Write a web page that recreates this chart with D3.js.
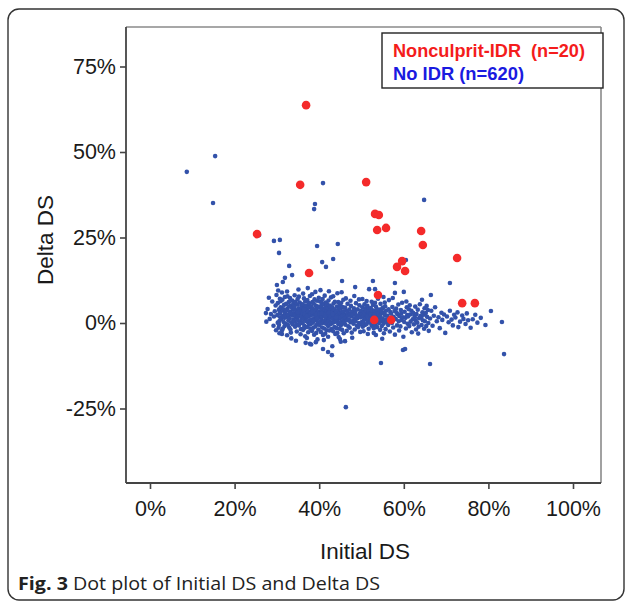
<!DOCTYPE html>
<html><head><meta charset="utf-8">
<script src="https://cdn.jsdelivr.net/npm/d3@7"></script>
<style>body{margin:0;background:#fff}svg{display:block}</style>
</head><body>
<svg id="c" width="627" height="605"></svg>
<script>
// ---- data (percent units: [Initial DS %, Delta DS %]) ----
const xTicks = [0, 20, 40, 60, 80, 100];
const yTicks = [-25, 0, 25, 50, 75];
const legendLabels = ["Nonculprit-IDR  (n=20)", "No IDR (n=620)"];
const nonculpritIDR = [
[36.9,63.7],[35.5,40.4],[51.1,41.2],[25.3,26.0],[53.2,31.9],[54.1,31.6],[53.7,27.2],[55.8,27.8],
[64.1,26.9],[64.5,22.8],[72.6,19.0],[37.6,14.6],[59.6,18.1],[58.4,16.4],[60.3,15.2],[53.9,8.2],
[53.0,0.9],[57.0,0.9],[73.8,5.8],[76.8,5.8]];
const noIDROutliers = [
[15.4,48.8],[8.7,44.2],[14.9,35.1],[25.8,25.7],[40.9,40.9],[39.0,34.8],[38.8,33.3],[29.3,24.0],
[30.7,24.3],[30.5,20.5],[39.5,22.5],[44.4,23.1],[43.3,18.7],[64.8,36.0],[60.5,18.4],[32.9,16.7],
[40.7,17.8],[41.6,16.4],[33.6,14.0],[31.9,13.2],[31.4,12.0],[30.0,11.1],[27.4,2.9],[31.2,-3.2],
[37.8,-6.1],[39.2,-5.6],[40.9,-7.6],[42.1,-8.5],[43.0,-9.4],[44.9,-4.7],[46.1,-5.3],[54.6,-11.7],
[59.8,-7.9],[60.3,-7.6],[66.2,-12.0],[46.3,-24.6],[45.4,12.3],[48.5,10.5],[52.7,12.3],[57.9,11.7],
[51.8,9.9],[53.2,9.9],[70.9,11.7],[80.6,3.5],[83.2,0.3],[83.7,-9.1],[66.4,8.2],[57.9,8.8],[60.0,9.1]];
const noIDRCluster = [
[27.8,4.1],[28.3,1.2],[28.9,6.3],[29.2,-0.8],[29.5,3.4],[29.9,8.2],[28.6,2.6],[29.7,5.1],[27.5,0.4],[29.3,1.9],[28.1,7.4],[29.8,-2.1],
[30.1,2.3],[30.2,5.8],[30.4,-1.4],[30.5,3.9],[30.6,0.6],[30.7,7.1],[30.8,1.7],[30.9,4.6],[30.3,9.5],[30.6,-3.0],[30.8,2.9],[30.2,0.1],[30.9,6.4],[30.5,-0.5],[30.7,3.2],
[31.0,1.1],[31.1,4.4],[31.2,-2.2],[31.3,6.8],[31.4,2.0],[31.5,3.6],[31.6,0.3],[31.7,5.3],[31.8,-0.9],[31.9,2.7],[31.2,8.9],[31.4,-1.6],[31.6,4.0],[31.8,1.5],[31.9,7.6],
[32.0,3.1],[32.1,-0.2],[32.2,5.6],[32.3,1.8],[32.4,-3.6],[32.5,4.2],[32.6,2.4],[32.7,0.7],[32.8,6.1],[32.9,-1.3],[32.2,3.7],[32.4,9.2],[32.6,-0.6],[32.8,2.1],[32.9,4.9],[32.5,7.8],
[33.0,1.4],[33.1,3.3],[33.2,-1.9],[33.3,5.0],[33.4,0.2],[33.5,2.6],[33.6,6.6],[33.7,-0.4],[33.8,3.9],[33.9,1.0],[33.1,7.3],[33.3,-2.8],[33.5,4.5],[33.7,2.2],[33.9,5.7],[33.4,-4.5],
[34.0,2.8],[34.1,0.5],[34.2,4.1],[34.3,-1.1],[34.4,6.2],[34.5,1.6],[34.6,3.5],[34.7,-2.5],[34.8,5.4],[34.9,0.9],[34.2,8.1],[34.4,2.3],[34.6,-0.3],[34.8,3.0],[34.9,7.0],[34.1,4.8],[34.5,-5.2],
[35.0,1.9],[35.1,4.3],[35.2,-0.7],[35.3,2.5],[35.4,6.0],[35.5,0.4],[35.6,3.8],[35.7,-1.8],[35.8,5.2],[35.9,1.3],[35.2,7.7],[35.4,3.2],[35.6,-3.3],[35.8,2.0],[35.9,4.7],[35.1,9.8],[35.5,-0.1],
[36.0,2.9],[36.1,0.0],[36.1,5.5],[36.2,-2.0],[36.3,3.6],[36.3,1.2],[36.4,7.2],[36.5,-0.8],[36.5,4.4],[36.6,2.1],[36.7,-3.9],[36.7,6.3],[36.8,1.7],[36.8,3.3],[36.9,0.6],[36.9,5.0],[36.2,8.6],[36.4,-1.5],[36.6,2.6],[36.8,-5.8],
[37.0,1.5],[37.0,4.0],[37.1,-1.2],[37.2,2.8],[37.2,6.7],[37.3,0.3],[37.4,3.4],[37.4,-2.7],[37.5,5.3],[37.5,1.9],[37.6,-0.5],[37.7,4.6],[37.7,2.4],[37.8,7.9],[37.8,0.8],[37.9,3.1],[37.9,-1.7],[37.3,10.2],[37.6,5.8],[37.1,-4.4],
[38.0,2.2],[38.0,-0.3],[38.1,4.9],[38.2,1.0],[38.2,3.7],[38.3,-2.3],[38.4,6.1],[38.4,2.5],[38.5,0.1],[38.5,4.2],[38.6,-1.4],[38.7,3.0],[38.7,5.7],[38.8,1.4],[38.8,-3.4],[38.9,2.7],[38.9,6.9],[38.3,8.4],[38.6,0.7],[38.1,-6.3],
[39.0,3.5],[39.0,0.9],[39.1,-1.0],[39.2,5.1],[39.2,2.0],[39.3,-2.9],[39.4,4.3],[39.4,1.1],[39.5,6.5],[39.5,-0.4],[39.6,2.9],[39.7,4.8],[39.7,0.2],[39.8,-1.9],[39.8,3.3],[39.9,1.6],[39.9,7.4],[39.1,9.1],[39.6,-4.8],[39.3,2.6],
[40.0,1.8],[40.0,4.5],[40.1,-0.6],[40.2,3.0],[40.2,6.3],[40.3,0.5],[40.4,2.3],[40.4,-2.6],[40.5,5.0],[40.5,1.3],[40.6,3.8],[40.7,-1.3],[40.7,2.0],[40.8,7.0],[40.8,0.0],[40.9,4.1],[40.9,-3.5],[40.3,9.6],[40.6,5.9],[40.1,2.7],
[41.0,3.2],[41.0,0.4],[41.1,5.4],[41.2,-1.6],[41.2,2.2],[41.3,4.0],[41.4,0.8],[41.4,-3.1],[41.5,6.0],[41.5,2.6],[41.6,-0.2],[41.7,3.6],[41.7,1.4],[41.8,5.6],[41.8,-2.1],[41.9,2.8],[41.9,0.3],[41.3,8.0],[41.6,4.6],[41.1,-5.0],
[42.0,1.7],[42.0,4.4],[42.1,-0.9],[42.2,2.5],[42.2,6.6],[42.3,0.6],[42.4,3.5],[42.4,-2.2],[42.5,5.1],[42.5,1.5],[42.6,-0.4],[42.7,3.9],[42.7,2.0],[42.8,7.5],[42.8,0.1],[42.9,2.9],[42.9,-1.8],[42.3,9.3],[42.6,4.9],[42.1,-4.0],
[43.0,2.4],[43.0,-0.1],[43.1,4.6],[43.2,1.2],[43.2,3.4],[43.3,-2.4],[43.4,5.7],[43.4,2.1],[43.5,0.2],[43.5,4.0],[43.6,-1.2],[43.7,2.7],[43.7,6.2],[43.8,1.1],[43.8,-3.2],[43.9,3.1],[43.9,0.7],[43.3,7.8],[43.6,1.9],[43.1,-6.8],
[44.0,3.3],[44.0,0.5],[44.1,-1.5],[44.2,4.8],[44.2,2.2],[44.3,-2.9],[44.4,3.7],[44.4,1.0],[44.5,6.1],[44.5,-0.3],[44.6,2.4],[44.7,4.4],[44.7,0.0],[44.8,-1.7],[44.8,2.9],[44.9,1.4],[44.9,5.3],[44.3,8.7],[44.6,-4.1],[44.1,2.0],
[45.0,1.6],[45.0,4.2],[45.1,-0.7],[45.2,2.7],[45.2,5.9],[45.3,0.4],[45.4,3.2],[45.4,-2.0],[45.5,4.7],[45.5,1.8],[45.6,-0.1],[45.7,3.4],[45.7,6.8],[45.8,1.0],[45.8,-3.0],[45.9,2.5],[45.9,0.2],[45.3,9.0],[45.6,2.1],[45.1,-5.5],
[46.0,2.0],[46.1,4.5],[46.2,-0.5],[46.3,1.5],[46.4,3.6],[46.5,-2.3],[46.6,0.8],[46.7,5.6],[46.8,2.3],[46.9,-1.0],[46.3,7.2],[46.7,3.0],
[47.0,1.1],[47.1,3.9],[47.2,-1.4],[47.3,2.6],[47.4,0.2],[47.5,5.0],[47.6,1.9],[47.7,-2.8],[47.8,3.3],[47.9,0.6],[47.4,6.5],[47.8,-4.3],
[48.0,2.4],[48.1,-0.2],[48.2,4.3],[48.3,1.2],[48.4,-1.9],[48.5,3.0],[48.6,0.5],[48.7,5.8],[48.8,2.0],[48.9,-0.8],[48.3,7.9],[48.6,3.7],
[49.0,1.4],[49.1,4.0],[49.2,-1.2],[49.3,2.2],[49.4,0.0],[49.5,5.2],[49.6,2.8],[49.7,-2.6],[49.8,1.6],[49.9,3.5],[49.4,6.9],[49.8,-0.4],
[50.0,2.5],[50.1,0.3],[50.2,4.6],[50.3,-1.1],[50.4,2.0],[50.5,3.4],[50.6,0.9],[50.7,5.5],[50.8,-0.6],[50.9,1.7],[50.2,7.0],[50.5,-2.4],[50.7,3.0],[50.9,4.3],[50.4,0.0],
[51.0,1.2],[51.1,3.6],[51.2,-0.3],[51.3,2.3],[51.4,5.0],[51.5,0.6],[51.6,2.9],[51.7,-1.7],[51.8,4.1],[51.9,1.5],[51.2,6.4],[51.5,-3.2],[51.7,3.3],[51.9,0.2],[51.4,1.9],
[52.0,2.7],[52.1,0.1],[52.2,4.4],[52.3,1.4],[52.4,-0.8],[52.5,3.1],[52.6,2.1],[52.7,5.3],[52.8,0.5],[52.9,-1.5],[52.2,2.4],[52.4,6.2],[52.6,3.7],[52.8,1.8],[52.9,-2.9],
[53.0,1.0],[53.1,3.5],[53.2,-0.5],[53.3,2.6],[53.4,4.8],[53.5,0.8],[53.6,1.9],[53.7,-1.2],[53.8,3.2],[53.9,2.2],[53.2,5.9],[53.4,-3.5],[53.6,4.1],[53.8,0.3],[53.9,7.1],
[54.0,2.4],[54.1,0.0],[54.2,3.9],[54.3,1.5],[54.4,-2.0],[54.5,5.6],[54.6,2.8],[54.7,0.6],[54.8,-0.9],[54.9,4.2],[54.2,8.3],[54.5,1.1],[54.7,3.4],[54.9,-4.6],[54.4,2.0],
[55.0,1.3],[55.1,4.5],[55.2,-0.2],[55.3,2.9],[55.4,0.7],[55.5,6.0],[55.6,2.2],[55.7,-1.8],[55.8,3.6],[55.9,1.0],[55.3,-3.0],[55.6,4.9],[55.8,0.2],[55.2,7.6],[55.5,2.5],
[56.1,2.1],[56.3,-0.6],[56.4,4.0],[56.6,1.3],[56.7,-2.5],[56.8,3.2],[56.9,0.4],[56.5,6.7],
[57.0,2.7],[57.2,0.0],[57.3,4.7],[57.5,-1.3],[57.6,1.8],[57.8,3.5],[57.9,-3.4],[57.4,7.3],
[58.1,1.2],[58.2,4.2],[58.4,-0.7],[58.5,2.6],[58.7,5.4],[58.8,0.5],[58.9,-2.2],[58.3,3.0],
[59.0,2.0],[59.2,-1.0],[59.3,3.8],[59.5,0.9],[59.6,5.9],[59.8,1.7],[59.9,-4.0],[59.4,2.8],
[60.1,0.3],[60.2,3.3],[60.4,1.5],[60.5,-1.6],[60.7,4.6],[60.8,2.3],[60.9,-0.2],[60.6,6.3],
[61.0,1.9],[61.2,4.0],[61.3,-0.9],[61.5,2.5],[61.6,0.4],[61.8,3.6],[61.9,-2.7],[61.4,5.2],
[62.1,1.1],[62.2,3.0],[62.4,-0.4],[62.5,2.2],[62.7,4.8],[62.8,0.7],[62.9,-1.9],[62.6,1.6],
[63.0,2.6],[63.2,0.1],[63.3,3.9],[63.5,-1.1],[63.6,1.4],[63.8,5.5],[63.9,2.0],[63.4,-3.1],
[64.1,1.7],[64.2,-0.6],[64.4,3.1],[64.5,0.8],[64.7,2.4],[64.8,-1.7],[64.9,4.3],[64.3,6.8],
[65.0,0.5],[65.2,2.9],[65.3,-0.9],[65.5,1.8],[65.7,3.8],[65.8,0.0],[65.9,-2.3],[65.4,5.0],
[66.2,1.3],[66.5,3.6],[66.8,-0.8],[67.1,2.1],[67.4,4.6],[67.8,0.5],[68.2,1.7],[68.5,-1.5],[68.9,3.0],
[69.1,0.9],[69.5,2.5],[69.8,-2.9],[70.2,1.9],[70.6,0.2],[70.9,3.6],[71.3,1.0],[71.6,-0.7],[71.9,2.4],
[72.2,1.6],[72.7,3.1],[72.9,-1.2],[73.3,0.4],[73.8,2.2],[74.1,1.2],[74.6,-0.3],[74.9,2.8],
[75.2,0.8],[75.8,-1.4],[76.3,1.1],[76.9,2.4],[77.4,0.1],[78.2,1.5],[79.3,-0.6],
[36.4,3.9],[37.1,2.0],[38.3,3.2],[39.5,1.4],[40.6,2.8],[41.4,1.9],[42.3,3.0],[43.2,2.6],[44.0,1.7],[33.2,2.9],[35.0,3.1],[53.0,2.4]
];
const noIDR = noIDROutliers.concat(noIDRCluster);

// ---- layout ----
const svg = d3.select("#c");
const plot = {left: 126, right: 601, top: 27, bottom: 483};
const x = d3.scaleLinear().domain([0, 100]).range([150, 573]);
const y = d3.scaleLinear().domain([0, 25]).range([323, 237.5]);
const font = "'Liberation Sans', Arial, Helvetica, sans-serif";

// outer frame
svg.append("rect").attr("x", 8).attr("y", 9).attr("width", 616).attr("height", 591)
  .attr("rx", 11).attr("fill", "none").attr("stroke", "#333").attr("stroke-width", 1.4);

// plot box: top/right light, left/bottom dark
svg.append("line").attr("x1", plot.left).attr("x2", plot.right).attr("y1", plot.top).attr("y2", plot.top)
  .attr("stroke", "#8a8a8a").attr("stroke-width", 1.6);
svg.append("line").attr("x1", plot.right).attr("x2", plot.right).attr("y1", plot.top).attr("y2", plot.bottom)
  .attr("stroke", "#8a8a8a").attr("stroke-width", 1.6);

// points
svg.append("g").selectAll("circle").data(noIDR).join("circle")
  .attr("cx", d => x(d[0])).attr("cy", d => y(d[1])).attr("r", 2.3)
  .attr("fill", "#3352aa");
svg.append("g").selectAll("circle").data(nonculpritIDR).join("circle")
  .attr("cx", d => x(d[0])).attr("cy", d => y(d[1])).attr("r", 4.3)
  .attr("fill", "#f42a2a");

// axes
const xAxis = svg.append("g").attr("transform", `translate(0,${plot.bottom})`)
  .call(d3.axisBottom(x).tickValues(xTicks).tickSize(6).tickPadding(12).tickFormat(d => d + "%"));
const yAxis = svg.append("g").attr("transform", `translate(${plot.left},0)`)
  .call(d3.axisLeft(y).tickValues(yTicks).tickSize(6).tickPadding(4).tickFormat(d => d + "%"));
[xAxis, yAxis].forEach(g => {
  g.select(".domain").remove();
  g.selectAll(".tick line").attr("stroke", "#444").attr("stroke-width", 1.6);
  g.selectAll(".tick text").attr("fill", "#1a1a1a").attr("font-family", font).attr("font-size", 21.5);
});
svg.append("line").attr("x1", plot.left).attr("x2", plot.left).attr("y1", plot.top).attr("y2", plot.bottom)
  .attr("stroke", "#444").attr("stroke-width", 1.8);
svg.append("line").attr("x1", plot.left).attr("x2", plot.right).attr("y1", plot.bottom).attr("y2", plot.bottom)
  .attr("stroke", "#444").attr("stroke-width", 1.8);

// axis titles
svg.append("text").attr("x", 365).attr("y", 559).attr("text-anchor", "middle")
  .attr("font-family", font).attr("font-size", 22.5).attr("fill", "#1a1a1a").text("Initial DS");
svg.append("text").attr("transform", "translate(53,240) rotate(-90)").attr("text-anchor", "middle")
  .attr("font-family", font).attr("font-size", 22.5).attr("fill", "#1a1a1a").text("Delta DS");

// legend
svg.append("rect").attr("x", 382).attr("y", 33).attr("width", 221).attr("height", 55)
  .attr("fill", "#fff").attr("stroke", "#222").attr("stroke-width", 1.4);
const legColors = ["#f41c1c", "#1a1ae0"];
const legWidths = [192, 131];
legendLabels.forEach((t, i) => {
  svg.append("text").attr("x", 393).attr("y", 57 + i * 23)
    .attr("font-family", font).attr("font-weight", "bold").attr("font-size", 17.5)
    .attr("textLength", legWidths[i]).attr("lengthAdjust", "spacingAndGlyphs")
    .attr("fill", legColors[i]).attr("xml:space", "preserve").style("white-space", "pre").text(t);
});

// caption
const cap = svg.append("text").attr("x", 18).attr("y", 590)
  .attr("font-family", "'Open Sans', 'Noto Sans', sans-serif").attr("font-size", 18.5).attr("fill", "#222")
  .attr("textLength", 362).attr("lengthAdjust", "spacingAndGlyphs");
cap.append("tspan").attr("font-weight", "bold").text("Fig. 3");
cap.append("tspan").text(" Dot plot of Initial DS and Delta DS");
</script>
</body></html>
